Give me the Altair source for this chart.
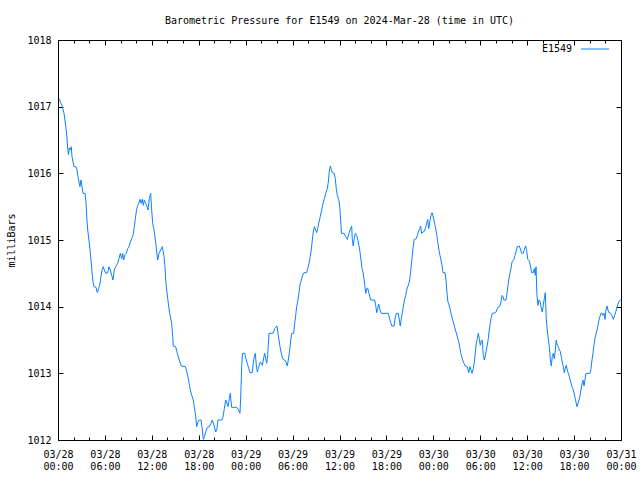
import altair as alt
import pandas as pd

# ---------------- data (hours since 2024-03-28 00:00 UTC, pressure in mb) ----------------
hours = [
    0.13, 0.38, 0.55, 0.77, 0.98, 1.15, 1.24, 1.34, 1.45, 1.57, 1.70, 1.79, 1.92, 2.05, 2.30, 2.43,
    2.56, 2.69, 2.81, 2.94, 3.07, 3.20, 3.45, 3.58, 3.67, 3.80, 3.96, 4.09, 4.22, 4.35, 4.48, 4.60,
    4.86, 5.03, 5.20, 5.37, 5.50, 5.63, 5.79, 5.92, 6.10, 6.36, 6.52, 6.69, 6.87, 7.03, 7.20, 7.38,
    7.63, 7.80, 7.97, 8.15, 8.27, 8.40, 8.57, 8.73, 8.91, 9.08, 9.25, 9.42, 9.59, 9.76, 9.89, 10.01,
    10.14, 10.32, 10.49, 10.61, 10.78, 10.91, 11.04, 11.22, 11.38, 11.51, 11.68, 11.85, 11.98, 12.11,
    12.28, 12.49, 12.62, 12.75, 12.92, 13.13, 13.34, 13.56, 13.68, 13.77, 13.90, 14.03, 14.16, 14.28,
    14.54, 14.67, 14.74, 15.05, 15.26, 15.51, 15.77, 16.28, 16.46, 16.66, 16.88, 17.10, 17.30, 17.43,
    17.56, 17.74, 17.90, 18.07, 18.29, 18.41, 18.58, 18.71, 18.89, 19.09, 19.35, 19.57, 19.73, 19.95,
    20.17, 20.33, 20.46, 20.93, 21.10, 21.27, 21.45, 21.61, 21.74, 21.91, 22.03, 22.21, 22.85, 23.06,
    23.27, 23.36, 23.49, 23.59, 23.88, 24.04, 24.21, 24.39, 24.55, 24.85, 24.98, 25.10, 25.23, 25.36,
    25.49, 25.61, 25.74, 25.87, 26.00, 26.13, 26.25, 26.43, 26.56, 26.69, 26.82, 26.98, 27.49, 27.71,
    28.01, 28.13, 28.26, 28.39, 28.56, 28.73, 28.99, 29.20, 29.32, 29.45, 29.63, 29.76, 29.89, 30.14,
    30.27, 30.40, 30.52, 30.69, 30.86, 30.99, 31.11, 31.29, 31.46, 31.80, 31.93, 32.10, 32.26, 32.39,
    32.52, 32.65, 32.78, 32.96, 33.08, 33.21, 33.38, 33.54, 33.72, 33.89, 34.06, 34.23, 34.44, 34.57,
    34.69, 34.82, 34.95, 35.08, 35.33, 35.46, 35.59, 35.72, 35.90, 36.02, 36.15, 36.25, 36.57, 36.79,
    37.00, 37.21, 37.38, 37.56, 37.64, 37.76, 37.89, 38.02, 38.20, 38.36, 38.49, 38.62, 38.75, 38.88,
    39.00, 39.13, 39.26, 39.35, 39.48, 39.60, 39.73, 39.86, 39.99, 40.50, 40.63, 40.76, 40.88, 41.01,
    41.14, 41.27, 41.40, 42.24, 42.37, 42.55, 42.71, 42.97, 43.13, 43.26, 43.52, 43.65, 43.77, 43.90,
    44.03, 44.16, 44.29, 44.46, 44.59, 44.76, 44.93, 45.05, 45.18, 45.31, 45.44, 45.56, 45.82, 45.95,
    46.08, 46.26, 46.38, 46.51, 46.68, 46.84, 46.97, 47.15, 47.28, 47.41, 47.57, 47.70, 47.83, 47.96,
    48.08, 48.21, 48.34, 48.47, 48.59, 48.72, 48.85, 48.98, 49.11, 49.23, 49.49, 49.62, 49.75, 49.87,
    50.04, 50.17, 50.32, 50.55, 50.73, 50.90, 51.06, 51.24, 51.41, 51.58, 51.75, 51.92, 52.09, 52.34,
    52.52, 52.69, 52.81, 52.94, 53.11, 53.24, 53.37, 53.49, 53.62, 53.75, 53.88, 54.00, 54.13, 54.26,
    54.39, 54.52, 54.64, 54.77, 54.90, 55.03, 55.15, 55.28, 55.41, 55.54, 55.97, 56.14, 56.31, 56.52,
    56.65, 56.78, 56.91, 57.03, 57.29, 57.42, 57.55, 57.67, 57.80, 57.93, 58.06, 58.31, 58.44, 58.57,
    58.74, 58.99, 59.17, 59.30, 59.50, 59.63, 59.81, 59.94, 60.07, 60.27, 60.45, 60.58, 60.78, 60.91,
    61.04, 61.13, 61.25, 61.38, 61.51, 61.64, 61.77, 61.93, 62.06, 62.19, 62.32, 62.44, 62.57, 62.70,
    62.83, 62.96, 63.08, 63.21, 63.34, 63.47, 63.60, 63.72, 63.85, 63.98, 64.11, 64.24, 64.36, 64.49,
    64.62, 64.75, 64.87, 65.00, 65.13, 65.26, 65.39, 65.51, 65.64, 65.77, 65.90, 66.03, 66.15, 66.28,
    66.37, 66.50, 66.63, 66.75, 66.88, 67.01, 67.14, 67.27, 67.39, 67.52, 68.03, 68.16, 68.29, 68.42,
    68.54, 68.67, 68.80, 68.93, 69.06, 69.18, 69.31, 69.44, 69.57, 69.69, 69.82, 69.95, 70.08, 70.21,
    70.33, 70.46, 70.68, 70.85, 71.01, 71.19, 71.32, 71.45, 71.61, 71.78, 71.95,
]

pressure = [
    1017.12, 1017.05, 1017.00, 1016.90, 1016.72, 1016.53, 1016.38, 1016.28, 1016.38, 1016.35, 1016.40,
    1016.25, 1016.17, 1016.10, 1016.10, 1016.05, 1015.95, 1015.87, 1015.80, 1015.90, 1015.80, 1015.70,
    1015.70, 1015.57, 1015.35, 1015.15, 1015.00, 1014.85, 1014.70, 1014.52, 1014.37, 1014.30, 1014.29,
    1014.21, 1014.27, 1014.35, 1014.45, 1014.55, 1014.60, 1014.55, 1014.50, 1014.51, 1014.60, 1014.55,
    1014.47, 1014.40, 1014.55, 1014.60, 1014.65, 1014.72, 1014.80, 1014.72, 1014.80, 1014.70, 1014.78,
    1014.80, 1014.87, 1014.90, 1014.97, 1015.02, 1015.07, 1015.20, 1015.32, 1015.42, 1015.50, 1015.55,
    1015.61, 1015.55, 1015.61, 1015.52, 1015.60, 1015.55, 1015.50, 1015.45, 1015.62, 1015.70, 1015.45,
    1015.25, 1015.15, 1014.97, 1014.82, 1014.70, 1014.80, 1014.85, 1014.90, 1014.75, 1014.60, 1014.40,
    1014.25, 1014.12, 1014.00, 1013.90, 1013.75, 1013.55, 1013.41, 1013.40, 1013.30, 1013.20, 1013.11,
    1013.10, 1013.03, 1012.92, 1012.77, 1012.67, 1012.60, 1012.50, 1012.40, 1012.20, 1012.27, 1012.30,
    1012.30, 1012.20, 1012.01, 1012.05, 1012.12, 1012.19, 1012.20, 1012.25, 1012.30, 1012.22, 1012.12,
    1012.17, 1012.30, 1012.30, 1012.34, 1012.47, 1012.60, 1012.55, 1012.50, 1012.62, 1012.70, 1012.49,
    1012.49, 1012.46, 1012.40, 1012.63, 1013.10, 1013.30, 1013.30, 1013.22, 1013.15, 1013.07, 1013.01,
    1013.01, 1013.17, 1013.25, 1013.30, 1013.12, 1013.02, 1013.07, 1013.12, 1013.17, 1013.15, 1013.12,
    1013.20, 1013.30, 1013.22, 1013.15, 1013.27, 1013.60, 1013.60, 1013.67, 1013.71, 1013.60, 1013.50,
    1013.40, 1013.30, 1013.22, 1013.20, 1013.16, 1013.11, 1013.20, 1013.35, 1013.50, 1013.60, 1013.60,
    1013.75, 1013.87, 1014.00, 1014.10, 1014.25, 1014.35, 1014.40, 1014.47, 1014.51, 1014.51, 1014.57,
    1014.65, 1014.75, 1014.85, 1015.00, 1015.12, 1015.20, 1015.15, 1015.11, 1015.17, 1015.27, 1015.35,
    1015.45, 1015.55, 1015.62, 1015.70, 1015.77, 1015.87, 1016.02, 1016.11, 1016.06, 1016.01, 1016.00,
    1015.92, 1015.77, 1015.67, 1015.61, 1015.52, 1015.30, 1015.10, 1015.10, 1015.05, 1015.01, 1015.10,
    1015.16, 1015.21, 1015.00, 1014.91, 1015.02, 1015.10, 1015.07, 1014.99, 1014.92, 1014.82, 1014.70,
    1014.57, 1014.52, 1014.42, 1014.30, 1014.20, 1014.27, 1014.28, 1014.22, 1014.16, 1014.10, 1014.10,
    1014.02, 1013.91, 1013.97, 1014.04, 1013.97, 1013.91, 1013.90, 1013.90, 1013.84, 1013.76, 1013.71,
    1013.71, 1013.84, 1013.90, 1013.90, 1013.80, 1013.71, 1013.82, 1013.90, 1014.00, 1014.09, 1014.17,
    1014.25, 1014.31, 1014.37, 1014.47, 1014.62, 1014.77, 1014.92, 1015.01, 1015.02, 1015.07, 1015.12,
    1015.17, 1015.21, 1015.10, 1015.12, 1015.13, 1015.17, 1015.25, 1015.31, 1015.17, 1015.29, 1015.37,
    1015.41, 1015.36, 1015.30, 1015.22, 1015.15, 1015.05, 1014.95, 1014.85, 1014.77, 1014.70, 1014.62,
    1014.51, 1014.51, 1014.40, 1014.20, 1014.07, 1014.01, 1013.95, 1013.87, 1013.77, 1013.69, 1013.62,
    1013.55, 1013.48, 1013.37, 1013.27, 1013.20, 1013.15, 1013.11, 1013.10, 1013.01, 1013.10, 1013.05,
    1013.00, 1013.07, 1013.17, 1013.32, 1013.45, 1013.52, 1013.60, 1013.52, 1013.42, 1013.48, 1013.50,
    1013.27, 1013.20, 1013.26, 1013.35, 1013.42, 1013.52, 1013.65, 1013.75, 1013.84, 1013.90, 1013.91,
    1013.96, 1014.00, 1014.01, 1014.07, 1014.17, 1014.15, 1014.10, 1014.10, 1014.20, 1014.32, 1014.42,
    1014.50, 1014.57, 1014.67, 1014.71, 1014.77, 1014.82, 1014.90, 1014.91, 1014.85, 1014.80, 1014.80,
    1014.86, 1014.91, 1014.84, 1014.71, 1014.69, 1014.59, 1014.51, 1014.51, 1014.57, 1014.47, 1014.60,
    1014.17, 1014.02, 1014.10, 1014.08, 1014.00, 1013.92, 1014.02, 1014.12, 1014.21, 1013.82, 1013.65,
    1013.52, 1013.40, 1013.22, 1013.11, 1013.25, 1013.30, 1013.22, 1013.35, 1013.50, 1013.42, 1013.40,
    1013.35, 1013.33, 1013.25, 1013.17, 1013.10, 1013.01, 1013.07, 1013.12, 1013.05, 1013.00, 1012.95,
    1012.90, 1012.84, 1012.79, 1012.75, 1012.69, 1012.62, 1012.55, 1012.50, 1012.55, 1012.60, 1012.66,
    1012.75, 1012.84, 1012.90, 1012.81, 1012.90, 1013.00, 1013.00, 1013.07, 1013.20, 1013.30, 1013.42,
    1013.52, 1013.59, 1013.65, 1013.72, 1013.80, 1013.85, 1013.90, 1013.90, 1013.87, 1013.90, 1013.81,
    1013.95, 1014.01, 1013.95, 1013.91, 1013.90, 1013.87, 1013.81, 1013.87, 1013.92, 1013.97, 1014.04,
    1014.09, 1014.10,
]

major_ticks = [0, 6, 12, 18, 24, 30, 36, 42, 48, 54, 60, 66, 72]
minor_ticks = [2, 4, 8, 10, 14, 16, 20, 22, 26, 28, 32, 34, 38, 40, 44, 46, 50, 52, 56, 58, 62, 64, 68, 70]
y_ticks = [1012, 1013, 1014, 1015, 1016, 1017, 1018]
series_name = ["E1549"]
title_text = "Barometric Pressure for E1549 on 2024-Mar-28 (time in UTC)"
y_title = "milliBars"

df = pd.DataFrame({"hours": hours, "pressure": pressure})

FONT = "DejaVu Sans Mono"
BLUE = "#0a80ff"
MAJ = 5
MIN = 3

xs = alt.Scale(domain=[0, 72], nice=False, zero=False)
ys = alt.Scale(domain=[1012, 1018], nice=False, zero=False)

label_expr = (
    "['03/' + (28 + floor(datum.value / 24)), "
    "(datum.value % 24 < 10 ? '0' : '') + (datum.value % 24) + ':00']"
)


def tick_axis(orient, values, size):
    return alt.Axis(
        orient=orient, values=values, tickSize=size, offset=-size, domain=False,
        grid=False, labels=False, ticks=True, tickColor="black", tickWidth=1,
    )


base = alt.Chart(df)

line = base.mark_line(color=BLUE, strokeWidth=1, interpolate="linear").encode(
    x=alt.X(
        "hours:Q", scale=xs, title=None,
        axis=alt.Axis(
            orient="bottom", values=major_ticks, tickSize=MAJ, offset=-MAJ, domain=False,
            grid=False, tickColor="black", tickWidth=1, labelExpr=label_expr,
            labelFont=FONT, labelFontSize=10, labelColor="black", labelAngle=0,
            labelPadding=9, labelLineHeight=12.5, labelBaseline="top",
            labelFlush=False, labelOverlap=False, labelBound=False,
        ),
    ),
    y=alt.Y(
        "pressure:Q", scale=ys, title=y_title,
        axis=alt.Axis(
            orient="left", values=y_ticks, tickSize=MAJ, offset=-MAJ, domain=False,
            grid=False, tickColor="black", tickWidth=1, format="d",
            labelFont=FONT, labelFontSize=10, labelColor="black", labelPadding=7,
            labelOverlap=False, labelFlush=False,
            titleFont=FONT, titleFontSize=10, titleFontWeight="normal", titleColor="black",
            titlePadding=10,
        ),
    ),
)

top_major = base.mark_line(opacity=0).encode(
    x=alt.X("hours:Q", scale=xs, title=None, axis=tick_axis("top", major_ticks, MAJ)),
    y=alt.Y("pressure:Q", scale=ys, title=None, axis=tick_axis("right", y_ticks, MAJ)),
)
bottom_minor = base.mark_line(opacity=0).encode(
    x=alt.X("hours:Q", scale=xs, title=None, axis=tick_axis("bottom", minor_ticks, MIN)),
    y=alt.Y("pressure:Q", scale=ys, axis=None),
)
top_minor = base.mark_line(opacity=0).encode(
    x=alt.X("hours:Q", scale=xs, title=None, axis=tick_axis("top", minor_ticks, MIN)),
    y=alt.Y("pressure:Q", scale=ys, axis=None),
)

legend_df = pd.DataFrame({"name": series_name})
legend_text = alt.Chart(legend_df).mark_text(
    font=FONT, fontSize=10, align="right", baseline="middle", color="black"
).encode(text="name:N", x=alt.value(514), y=alt.value(9))
legend_line = alt.Chart(legend_df).mark_rule(color=BLUE, strokeWidth=1).encode(
    x=alt.value(523), x2=alt.value(551), y=alt.value(9)
)

chart = (
    alt.layer(line, top_major, bottom_minor, top_minor, legend_text, legend_line)
    .resolve_axis(x="independent", y="independent")
    .properties(
        width=563,
        height=400,
        autosize=alt.AutoSizeParams(type="none"),
        padding={"left": 58, "top": 40, "right": 19, "bottom": 40},
        background="white",
        title=alt.TitleParams(
            text=title_text, font=FONT, fontSize=10, fontWeight="normal", color="black",
            anchor="middle", frame="group", baseline="alphabetic", offset=1,
        ),
    )
    .configure_view(stroke="black", strokeWidth=1)
)

chart.save("out.html", embed_options={"renderer": "svg", "actions": False})
